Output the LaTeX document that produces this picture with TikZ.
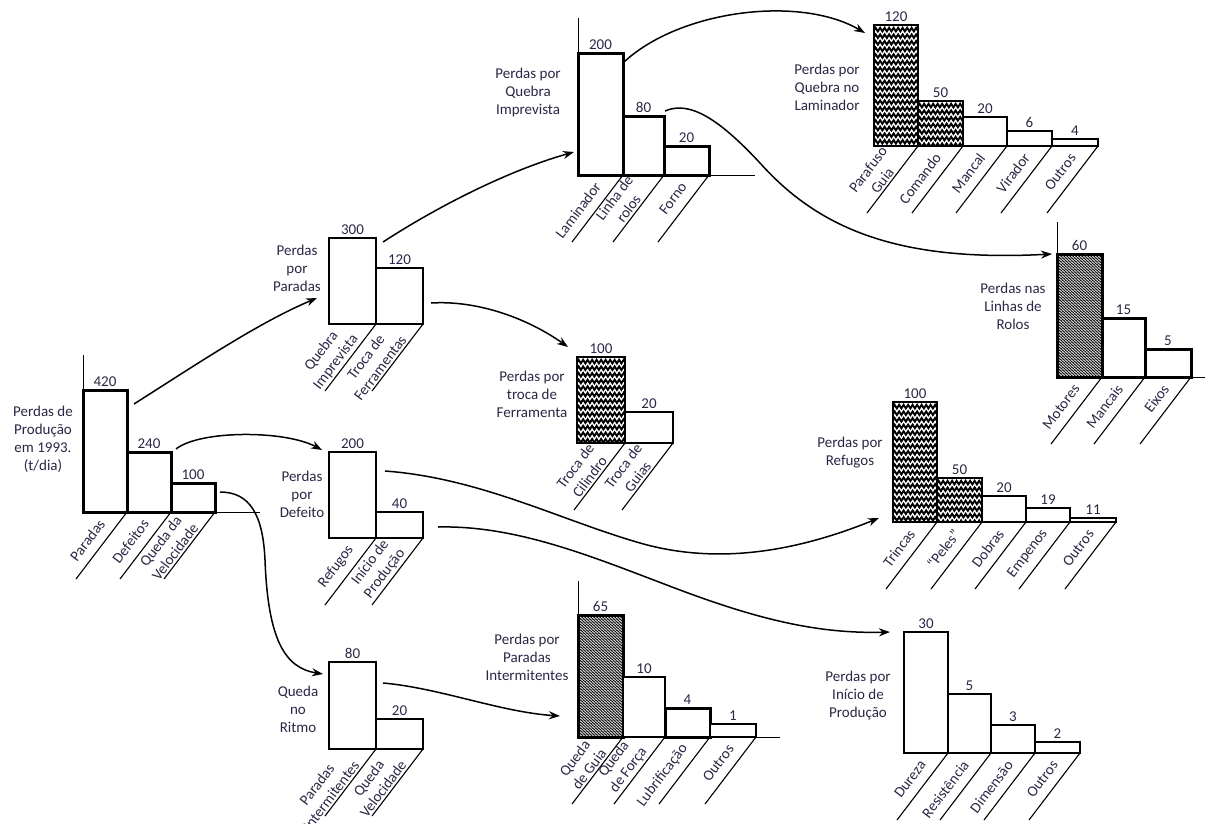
\documentclass[tikz,border=0pt]{standalone}
\usepackage{fontspec}
\setmainfont{Carlito}
\usetikzlibrary{arrows.meta,decorations.pathmorphing}

\definecolor{ink}{RGB}{40,40,70}

% one pareto chart: name, left x, baseline y, bars
\newcommand{\pareto}[4]{%
  \foreach \xr/\yt/\val/\lab/\sty [count=\i, remember=\xr as \xl (initially #2)] in {#4}{
    \node[bar,\sty,minimum width=\xr-\xl,minimum height=#3-\yt] (#1\i) at (\xl,#3) {};
    \node[val] at (#1\i.north) {\val};
    \draw[tick] (#1\i.south east) -- ++(-51,67) node[lbl] {\lab};
  }}

\begin{document}
\begin{tikzpicture}[x=1pt,y=-1pt,
    font=\fontsize{15pt}{18pt}\selectfont,
    bar/.style={draw,fill=white,outer sep=0pt,inner sep=0pt,anchor=south west},
    bA/.style={line width=3pt},
    bM/.style={line width=1.8pt},
    bB/.style={line width=1.2pt},
    zz/.style={path picture={
      \foreach \k in {1,...,19}
        \draw[line width=1.9pt,decorate,decoration={zigzag,segment length=4.5pt,amplitude=1.8pt}]
          ([xshift=-4pt,yshift=-\k*6.6pt+2pt]path picture bounding box.north west) --
          ([xshift=4pt,yshift=-\k*6.6pt+2pt]path picture bounding box.north east);}},
    mesh/.style={path picture={
      \foreach \k in {1,...,50}
        \draw[line width=0.6pt,decorate,decoration={zigzag,segment length=3pt,amplitude=1.3pt}]
          ([xshift=-4pt,yshift=-\k*2.8pt+1pt]path picture bounding box.north west) --
          ([xshift=4pt,yshift=-\k*2.8pt+1pt]path picture bounding box.north east);}},
    pZ/.style={line width=1.8pt,zz},
    pM/.style={line width=3pt,mesh},
    val/.style={above=3pt,inner sep=0pt,text=ink},
    lbl/.style={pos=0.25,rotate=53,anchor=south east,inner xsep=1pt,inner ysep=2pt,
      minimum height=28pt,align=center,text=ink},
    tick/.style={line width=1.1pt},
    ttl/.style={align=center,text=ink},
    axis/.style={line width=1pt},
    conn/.style={line width=1.5pt,-{Stealth[length=11pt,width=8pt]}}]
  \useasboundingbox (0,0) rectangle (1205,823);

  % axes
  \draw[axis] (83,355) |- (260,512);
  \draw[axis] (578,18) |- (755,175);
  \draw[axis] (1057,222) |- (1205,377);
  \draw[axis] (578,581) |- (780,737);

  % charts
  \pareto{a}{83}{512}{127/390/420/Paradas/bA, 171/452/240/Defeitos/bA,
    215/483/100/{Queda da\\Velocidade}/bA}
  \pareto{b}{329}{324}{376/238/300/{Quebra\\Imprevista}/bB,
    423/268/120/{Troca de\\Ferramentas}/bB}
  \pareto{c}{578}{175}{623/53/200/Laminador/bA, 664/116/80/{Linha de\\rolos}/bA,
    709/146/20/Forno/bA}
  \pareto{d}{874}{146}{918/25/120/{Parafuso\\Guia}/pZ, 963/101/50/Comando/pZ,
    1007/117/20/Mancal/bM, 1052/131/6/Virador/bM, 1098/139/4/Outros/bM}
  \pareto{e}{1057}{377}{1102/254/60/Motores/pM, 1145/318/15/Mancais/bA,
    1191/349/5/Eixos/bA}
  \pareto{f}{577}{443}{625/357/100/{Troca de\\Cilindro}/pZ,
    673/412/20/{Troca de\\Guias}/bB}
  \pareto{g}{329}{538}{376/452/200/Refugos/bB, 423/512/40/{Início de\\Produção}/bB}
  \pareto{h}{893}{522}{937/402/100/Trincas/pZ, 982/478/50/“Peles”/pZ,
    1026/496/20/Dobras/bM, 1070/508/19/Empenos/bM, 1116/518/11/Outros/bM}
  \pareto{i}{329}{749}{376/662/80/{Paradas\\Intermitentes}/bB,
    423/719/20/{Queda\\Velocidade}/bB}
  \pareto{j}{578}{737}{623/615/65/{Queda\\de Guia}/pM, 665/677/10/{Queda\\de Força}/bM,
    710/708/4/Lubrificação/bA, 756/724/1/Outros/bM}
  \pareto{k}{904}{753}{948/632/30/Dureza/bB, 991/694/5/Resistência/bB,
    1035/725/3/Dimensão/bB, 1080/742/2/Outros/bB}

  % titles
  \node[ttl] (ta) at (43,439)  {Perdas de\\Produção\\em 1993.\\(t/dia)};
  \node[ttl] (tb) at (297,268) {Perdas\\por\\Paradas};
  \node[ttl] (tc) at (528,92)  {Perdas por\\Quebra\\Imprevista};
  \node[ttl] (td) at (827,87)  {Perdas por\\Quebra no\\Laminador};
  \node[ttl] (te) at (1013,306) {Perdas nas\\Linhas de\\Rolos};
  \node[ttl] (tf) at (532,394) {Perdas por\\troca de\\Ferramenta};
  \node[ttl] (tg) at (302,494) {Perdas\\por\\Defeito};
  \node[ttl] (th) at (850,453) {Perdas por\\Refugos};
  \node[ttl] (ti) at (298,709) {Queda\\no\\Ritmo};
  \node[ttl] (tj) at (527,657) {Perdas por\\Paradas\\Intermitentes};
  \node[ttl] (tk) at (858,696) {Perdas por\\Início de\\Produção};

  % connectors
  \draw[conn] ([shift={(7,14)}]a1.north east) .. controls (200,362) and (260,322)
    .. ([shift={(-12,-26)}]b1.south west);
  \draw[conn] ([shift={(5,-3)}]a2.north east) .. controls (200,430) and (285,430)
    .. ([shift={(-7,-2)}]g1.north west);
  \draw[conn] ([shift={(5,9)}]a3.north east) .. controls (250,492) and (263,515)
    .. (265,560) .. controls (268,640) and (285,668) .. ([shift={(-6,12)}]i1.north west);
  \draw[conn] ([shift={(7,4)}]b1.north east) .. controls (440,205) and (510,170)
    .. ([shift={(-4,-23)}]c1.south west);
  \draw[conn] ([shift={(8,7)}]b2.east) .. controls (480,300) and (530,320)
    .. ([shift={(-9,-10)}]f1.north west);
  \draw[conn] ([shift={(1,9)}]c1.north east) .. controls (680,10) and (800,-5)
    .. ([shift={(-9,8)}]d1.north west);
  \draw[conn] ([shift={(1,-5)}]c2.north east) .. controls (690,100) and (720,120)
    .. (760,163) .. controls (820,230) and (900,262) .. ([shift={(-5,0)}]e1.north west);
  \draw[conn] ([shift={(9,19)}]g1.north east) .. controls (480,478) and (560,520)
    .. (640,543) .. controls (720,566) and (800,550) .. ([shift={(-14,-4)}]h1.south west);
  \draw[conn] ([shift={(15,2)}]g2.east) .. controls (520,525) and (600,560)
    .. (680,590) .. controls (760,620) and (820,634) .. ([shift={(-14,0)}]k1.north west);
  \draw[conn] ([shift={(7,21)}]i1.north east) .. controls (440,688) and (500,712)
    .. ([shift={(-18,-21)}]j1.south west);
\end{tikzpicture}
\end{document}
